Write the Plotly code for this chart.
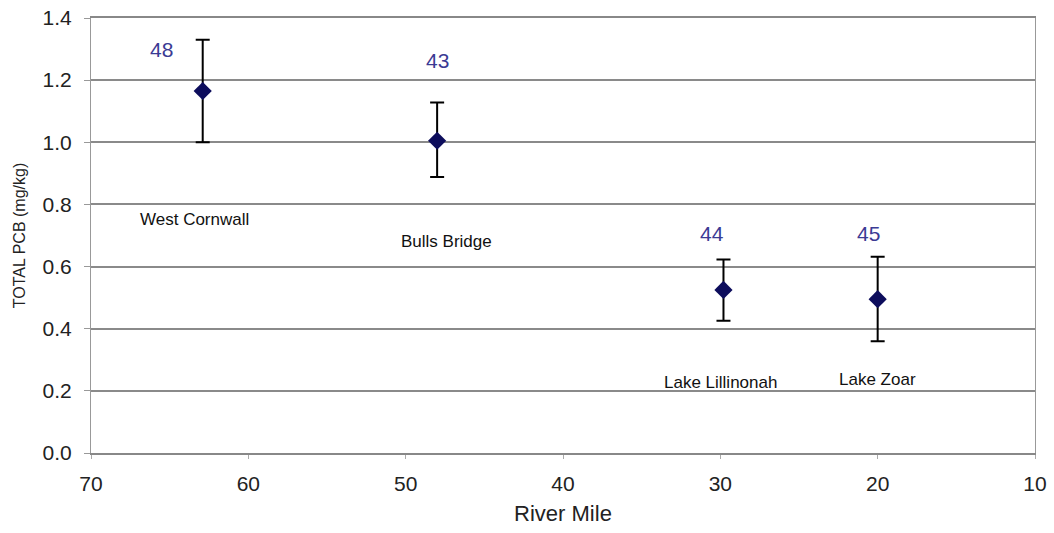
import plotly.graph_objects as go

# Sampling stations along the river
sites = ["West Cornwall", "Bulls Bridge", "Lake Lillinonah", "Lake Zoar"]
river_mile = [62.9, 48.0, 29.8, 20.0]
pcb_mean = [1.165, 1.005, 0.525, 0.495]
pcb_upper = [1.330, 1.128, 0.623, 0.632]
pcb_lower = [1.000, 0.888, 0.426, 0.360]
sample_counts = ["48", "43", "44", "45"]

# Label placement (river mile, mg/kg)
count_pos = [(65.5, 1.30), (48.0, 1.262), (30.5, 0.708), (20.6, 0.708)]
site_pos = [(63.4, 0.753), (47.4, 0.680), (30.0, 0.228), (20.0, 0.235)]

err_plus = [u - m for u, m in zip(pcb_upper, pcb_mean)]
err_minus = [m - l for m, l in zip(pcb_mean, pcb_lower)]

fig = go.Figure()
fig.add_trace(go.Scatter(
    x=river_mile, y=pcb_mean, mode="markers",
    marker=dict(symbol="diamond", size=14, color="#0d0d5c"),
    error_y=dict(type="data", symmetric=False, array=err_plus, arrayminus=err_minus,
                 color="black", thickness=2, width=7),
    showlegend=False,
))

for txt, (x, y) in zip(sample_counts, count_pos):
    fig.add_annotation(x=x, y=y, text=txt, showarrow=False,
                       font=dict(family="Arial, Liberation Sans", size=21, color="#3b3b94"))
for txt, (x, y) in zip(sites, site_pos):
    fig.add_annotation(x=x, y=y, text=txt, showarrow=False,
                       font=dict(family="Arial, Liberation Sans", size=17, color="#111"))

fig.update_layout(
    width=1054, height=533,
    margin=dict(l=91, r=19, t=18, b=80),
    paper_bgcolor="white", plot_bgcolor="white",
    font=dict(family="Arial, Liberation Sans", color="#222"),
)
fig.update_xaxes(
    range=[70, 10], tickmode="array", tickvals=[70, 60, 50, 40, 30, 20, 10],
    ticks="outside", ticklen=4, tickcolor="#aaa", showgrid=False, zeroline=False,
    showline=True, linecolor="#888", linewidth=1.5, mirror=True,
    tickfont=dict(size=21, color="#222"), ticklabelstandoff=7, automargin=False,
    title=dict(text="River Mile", font=dict(size=22, color="#222"), standoff=12),
)
fig.update_yaxes(
    range=[0, 1.4], tickmode="array", tickvals=[0, 0.2, 0.4, 0.6, 0.8, 1.0, 1.2, 1.4],
    ticktext=["0.0", "0.2", "0.4", "0.6", "0.8", "1.0", "1.2", "1.4"],
    ticks="outside", ticklen=6, tickcolor="#999",
    showgrid=True, gridcolor="#8a8a8a", gridwidth=1.5, zeroline=False,
    showline=True, linecolor="#999", linewidth=1, mirror=True,
    tickfont=dict(size=21, color="#222"), ticklabelstandoff=8, automargin=False,
    title=dict(text="TOTAL PCB (mg/kg)", font=dict(size=16, color="#222"), standoff=12),
)

fig.write_html("out.html")
